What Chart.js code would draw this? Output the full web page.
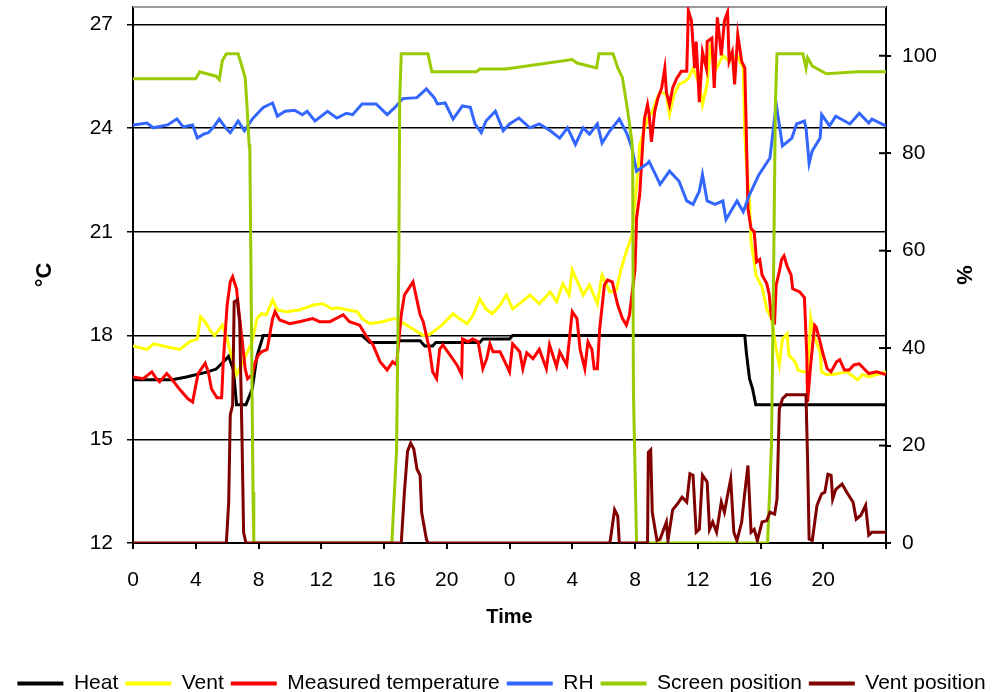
<!DOCTYPE html>
<html>
<head>
<meta charset="utf-8">
<title>Greenhouse climate</title>
<script src="https://cdn.jsdelivr.net/npm/chart.js@4/dist/chart.umd.min.js"></script>
<style>
    html, body { margin: 0; padding: 0; background: #fff; }
    #wrap { width: 1003px; height: 692px; }
</style>
</head>
<body>
<div id="wrap"><canvas id="chart"></canvas></div>
<script>
// [hour since start of day 1, value]; temperatures in °C, the rest in %
const heat = [[0,16.72],[2.5,16.72],[3.4,16.8],[4.7,16.94],[5.3,17.03],[5.9,17.3],[6.1,17.4],[6.4,17.0],[6.6,16.0],[7.2,16.0],[7.6,16.45],[7.9,17.4],[8.3,18.0],[14.6,18.0],[15.1,17.8],[16.8,17.8],[17.0,17.85],[18.3,17.85],[18.6,17.7],[19.1,17.7],[19.3,17.8],[22.1,17.8],[22.3,17.9],[24.0,17.9],[24.2,18.0],[39.0,18.0],[39.1,17.5],[39.3,16.75],[39.5,16.45],[39.7,16.0],[48,16.0]];

const vent = [[0,17.7],[0.9,17.6],[1.3,17.76],[2.2,17.67],[3.0,17.6],[3.6,17.82],[4.1,17.9],[4.3,18.54],[4.6,18.4],[4.9,18.16],[5.2,18.0],[5.7,18.3],[6.0,17.9],[6.2,17.53],[6.4,17.24],[6.6,16.87],[6.8,17.04],[7.3,17.53],[7.6,17.82],[7.9,18.49],[8.2,18.63],[8.5,18.6],[8.9,19.03],[9.2,18.74],[9.8,18.69],[10.6,18.74],[11.5,18.88],[12.1,18.92],[12.7,18.77],[13.0,18.8],[14.3,18.69],[14.6,18.49],[15.1,18.34],[15.9,18.4],[16.6,18.49],[16.8,18.47],[17.8,18.2],[18.5,18.0],[18.9,18.03],[19.4,18.2],[19.7,18.3],[20.4,18.63],[20.8,18.49],[21.3,18.34],[21.7,18.6],[22.1,19.06],[22.5,18.77],[22.9,18.63],[23.4,18.88],[23.8,19.17],[24.2,18.77],[24.8,18.98],[25.3,19.17],[25.9,18.92],[26.6,19.26],[27.0,18.98],[27.4,19.5],[27.8,19.17],[28.0,19.9],[28.7,19.17],[29.1,19.46],[29.6,18.92],[29.9,19.75],[30.4,19.26],[30.8,19.3],[31.1,19.9],[31.3,20.2],[31.5,20.5],[31.8,20.9],[32.0,21.87],[32.2,22.83],[32.3,23.5],[32.5,23.8],[32.8,24.26],[33.1,24.47],[33.4,24.85],[33.6,25.05],[34.0,24.97],[34.2,24.4],[34.5,24.97],[34.8,25.26],[35.2,25.35],[35.4,25.43],[35.7,25.73],[36.1,25.26],[36.3,24.68],[36.6,25.26],[36.8,26.3],[37.2,25.73],[37.6,26.1],[38.0,25.93],[38.5,26.1],[38.9,25.73],[39.0,23.8],[39.1,23.0],[39.3,21.87],[39.4,20.7],[39.6,20.13],[39.7,19.75],[40.1,19.4],[40.4,18.77],[40.7,18.5],[41.0,17.6],[41.2,17.15],[41.4,17.9],[41.7,18.05],[41.8,17.44],[42.2,17.24],[42.4,17.0],[42.7,16.95],[43.0,16.95],[43.2,18.49],[43.4,18.0],[43.8,17.53],[43.9,16.95],[44.2,16.87],[44.6,16.87],[45.5,16.95],[46.2,16.72],[46.5,16.87],[46.9,16.8],[48,16.95]];

const measuredTemp = [[0,16.8],[0.65,16.75],[1.2,16.95],[1.5,16.75],[1.7,16.66],[2.15,16.9],[2.5,16.72],[3.0,16.43],[3.5,16.17],[3.8,16.08],[4.15,16.9],[4.6,17.2],[4.8,16.95],[5.0,16.46],[5.35,16.2],[5.65,16.2],[5.75,17.2],[6.0,18.88],[6.2,19.55],[6.35,19.7],[6.6,19.35],[6.75,18.69],[6.95,17.9],[7.15,17.04],[7.3,16.75],[7.6,16.87],[7.8,17.24],[8.0,17.44],[8.2,17.53],[8.55,17.6],[8.9,18.49],[9.05,18.69],[9.35,18.45],[10.0,18.34],[10.6,18.4],[11.45,18.49],[11.9,18.4],[12.55,18.4],[13.4,18.6],[13.8,18.4],[14.45,18.3],[14.9,17.96],[15.3,17.73],[15.75,17.24],[16.2,17.0],[16.55,17.24],[16.8,17.15],[17.1,18.6],[17.3,19.17],[17.85,19.55],[18.3,18.6],[18.5,18.4],[18.7,18.0],[18.9,17.6],[19.1,16.95],[19.35,16.75],[19.55,17.6],[19.75,17.73],[20.2,17.44],[20.65,17.15],[20.95,16.87],[21.0,17.9],[21.35,17.82],[21.65,17.9],[22.0,17.82],[22.3,17.04],[22.55,17.33],[22.75,17.76],[22.95,17.53],[23.4,17.53],[23.8,17.15],[24.0,16.95],[24.2,17.76],[24.65,17.53],[24.85,17.04],[25.1,17.5],[25.5,17.33],[25.9,17.6],[26.35,17.04],[26.55,17.73],[27.0,17.1],[27.2,17.53],[27.65,17.15],[28.0,18.69],[28.3,18.49],[28.5,17.6],[28.8,17.04],[29.0,17.82],[29.25,17.6],[29.4,17.04],[29.6,17.04],[29.75,18.2],[30.05,19.46],[30.25,19.6],[30.55,19.55],[30.9,18.88],[31.2,18.49],[31.45,18.3],[31.65,18.6],[32.0,19.9],[32.1,21.4],[32.3,22.07],[32.5,23.6],[32.6,24.26],[32.8,24.68],[32.9,24.4],[33.05,23.6],[33.25,24.47],[33.45,24.85],[33.7,25.16],[33.9,25.73],[34.0,25.04],[34.2,24.68],[34.4,25.16],[34.65,25.43],[34.95,25.64],[35.3,25.64],[35.4,27.4],[35.6,27.1],[35.8,25.73],[35.9,26.5],[36.1,24.75],[36.3,26.2],[36.55,25.73],[36.6,26.5],[36.9,26.6],[37.05,25.16],[37.25,27.2],[37.5,26.1],[37.7,27.1],[37.9,27.35],[38.0,25.93],[38.2,26.2],[38.35,25.26],[38.55,26.7],[38.8,25.93],[39.0,25.73],[39.1,23.8],[39.2,21.67],[39.4,21.09],[39.6,21.0],[39.75,20.13],[39.95,20.2],[40.1,19.75],[40.4,19.5],[40.55,19.2],[40.7,18.49],[40.9,18.4],[41.0,19.46],[41.2,19.85],[41.35,20.2],[41.5,20.3],[41.7,20.0],[41.95,19.75],[42.05,19.35],[42.5,19.26],[42.8,19.1],[42.95,17.44],[43.0,16.08],[43.2,17.15],[43.45,18.3],[43.55,18.25],[43.75,17.9],[43.95,17.53],[44.25,17.04],[44.5,16.95],[44.85,17.24],[45.05,17.3],[45.35,17.0],[45.65,17.0],[45.95,17.15],[46.3,17.18],[46.6,17.04],[46.9,16.9],[47.4,16.95],[48,16.87]];

const rh = [[0,85.8],[0.9,86.2],[1.3,85.2],[2.2,85.8],[2.8,87.0],[3.2,85.4],[3.8,85.8],[4.1,83.1],[4.5,83.9],[4.8,84.2],[5.1,85.2],[5.5,87.0],[5.9,85.2],[6.2,84.2],[6.7,86.6],[7.1,84.6],[7.6,87.0],[8.3,89.4],[8.9,90.3],[9.2,87.6],[9.7,88.6],[10.3,88.8],[10.8,87.9],[11.1,88.6],[11.6,86.6],[12.4,88.6],[13.0,87.2],[13.6,88.2],[14.0,87.9],[14.6,90.1],[15.5,90.1],[16.2,87.9],[16.7,89.4],[17.2,91.2],[18.1,91.4],[18.7,93.2],[19.2,91.4],[19.4,90.1],[19.9,90.3],[20.4,87.0],[21.0,89.7],[21.5,89.4],[21.8,86.0],[22.2,84.2],[22.5,86.6],[23.1,88.6],[23.6,84.6],[24.0,86.0],[24.6,87.2],[25.3,85.2],[25.9,86.0],[26.6,84.6],[27.2,83.1],[27.7,85.2],[28.2,81.8],[28.7,85.2],[29.1,83.9],[29.6,86.0],[29.9,82.1],[30.4,84.6],[31.0,87.0],[31.5,83.9],[31.8,81.1],[32.1,76.3],[32.8,77.9],[32.9,78.3],[33.4,75.0],[33.6,73.6],[34.2,76.3],[34.8,74.3],[35.3,70.2],[35.7,69.5],[36.1,72.2],[36.3,75.6],[36.6,70.2],[37.1,69.5],[37.6,70.2],[37.8,66.4],[38.5,70.2],[38.9,68.0],[39.3,71.5],[39.9,75.6],[40.6,79.0],[41.0,90.1],[41.4,81.5],[42.0,83.1],[42.3,86.0],[42.8,86.6],[42.9,85.2],[43.1,77.9],[43.3,80.5],[43.8,83.1],[43.9,87.9],[44.4,85.6],[44.8,87.6],[45.7,86.0],[46.3,88.2],[46.9,86.2],[47.1,87.0],[48,85.6]];

const screenPos = [[0,95.3],[4.0,95.3],[4.25,96.7],[4.7,96.3],[5.3,95.8],[5.5,95.1],[5.7,99],[5.95,100.4],[6.7,100.4],[6.9,98.3],[7.15,95.5],[7.25,90.7],[7.4,81.9],[7.45,80.4],[7.65,10.4],[7.7,0],[16.5,0],[16.8,19],[16.95,60],[17.0,91],[17.1,100.4],[18.8,100.4],[19.05,96.7],[21.9,96.7],[22.1,97.3],[23.8,97.3],[24.2,97.5],[25.1,97.9],[28.0,99.2],[28.3,98.5],[29.55,97.5],[29.7,100.4],[30.6,100.4],[30.9,97.5],[31.2,95.5],[31.5,89.4],[31.8,82.5],[31.85,79.7],[31.9,31],[32.1,0],[40.45,0],[40.7,20],[40.85,60],[40.95,90],[41.05,100.4],[42.7,100.4],[42.9,97.5],[43.0,99.6],[43.3,97.9],[44.2,96.3],[46.2,96.7],[48,96.7]];

const ventPos = [[0,0],[5.95,0],[6.1,8.4],[6.2,26.3],[6.35,28.3],[6.45,49.5],[6.65,49.9],[6.8,45.4],[6.95,21.4],[7.05,2.2],[7.2,0],[17.1,0],[17.3,10.4],[17.5,18.8],[17.7,20.5],[17.9,19.3],[18.1,15.2],[18.3,13.9],[18.4,6.3],[18.7,0.8],[18.8,0],[30.4,0],[30.7,6.8],[30.9,5.5],[31.0,0],[32.8,0],[32.85,18.6],[33.0,19.1],[33.1,6.3],[33.4,0.5],[33.6,0.8],[34.0,4.3],[34.1,0.5],[34.4,6.8],[34.7,8.0],[35.0,9.4],[35.3,8.4],[35.5,14.2],[35.7,13.9],[35.9,2.2],[36.1,2.8],[36.3,13.9],[36.6,12.5],[36.75,2.8],[36.95,4.3],[37.2,2.2],[37.5,8.4],[37.7,6.3],[37.9,9.8],[38.1,13.1],[38.3,2.2],[38.5,0.5],[38.8,4.3],[39.0,10.4],[39.2,15.9],[39.4,2.2],[39.6,2.8],[39.8,0.5],[40.1,4.3],[40.4,4.6],[40.6,6.3],[40.9,5.9],[41.05,9.0],[41.2,27.5],[41.4,29.6],[41.65,30.4],[42.9,30.4],[43.0,17.3],[43.1,0.8],[43.3,0.5],[43.6,7.7],[43.9,10.1],[44.1,10.4],[44.3,14.1],[44.5,13.9],[44.6,9.0],[44.8,11.0],[45.2,12.1],[45.5,10.4],[45.9,8.4],[46.1,4.9],[46.4,5.7],[46.7,7.7],[46.9,1.6],[47.1,2.2],[48,2.2]];

const FONT = '"Liberation Sans", Arial, sans-serif';

function toPoints(pairs) {
    return pairs.map(([t, v]) => ({ x: t, y: v }));
}

function series(label, pairs, color, axis, order) {
    return {
        label: label,
        data: toPoints(pairs),
        borderColor: color,
        backgroundColor: color,
        borderWidth: 3,
        pointRadius: 0,
        tension: 0,
        fill: false,
        yAxisID: axis,
        order: order
    };
}

// fixed box sizes so the plot area lands where the original one is
function fixWidth(w) {
    return scale => {
        scale.width = w;
        scale.paddingTop = 0;
        scale.paddingBottom = 0;
    };
}

// grey top edge of the plot and the inner half of the right-hand ticks
const frameLines = {
    id: 'frameLines',
    beforeDatasetsDraw(chart) {
        const { ctx, chartArea } = chart;
        ctx.save();
        ctx.strokeStyle = '#999';
        ctx.lineWidth = 2;
        ctx.beginPath();
        ctx.moveTo(chartArea.left, chartArea.top);
        ctx.lineTo(chartArea.right, chartArea.top);
        ctx.stroke();
        ctx.restore();
    },
    afterDraw(chart) {
        const { ctx, chartArea } = chart;
        const right = chart.scales.y1;
        ctx.save();
        ctx.strokeStyle = '#000';
        ctx.lineWidth = 2;
        right.ticks.forEach(t => {
            const y = right.getPixelForValue(t.value);
            ctx.beginPath();
            ctx.moveTo(chartArea.right - 7, y);
            ctx.lineTo(chartArea.right, y);
            ctx.stroke();
        });
        ctx.restore();
    }
};

Chart.defaults.font.family = FONT;
Chart.defaults.color = '#000';

const baseLabels = Chart.defaults.plugins.legend.labels.generateLabels;

new Chart(document.getElementById('chart'), {
    type: 'line',
    data: {
        datasets: [
            series('Heat', heat, '#000000', 'y', 6),
            series('Vent', vent, '#FFFF00', 'y', 5),
            series('Measured temperature', measuredTemp, '#FF0000', 'y', 4),
            series('RH', rh, '#3366FF', 'y1', 3),
            series('Screen position', screenPos, '#99CC00', 'y1', 2),
            series('Vent position', ventPos, '#800000', 'y1', 1)
        ]
    },
    options: {
        responsive: true,
        maintainAspectRatio: false,
        animation: false,
        layout: { padding: { top: 7, left: 0, right: 0, bottom: -12 } },
        plugins: {
            tooltip: { enabled: false },
            legend: {
                position: 'bottom',
                labels: {
                    boxWidth: 46,
                    boxHeight: 4,
                    padding: 7,
                    font: { size: 21 },
                    sort: (a, b) => a.datasetIndex - b.datasetIndex,
                    generateLabels: chart => baseLabels(chart).map(item => {
                        item.fillStyle = item.strokeStyle;
                        item.lineWidth = 0;
                        return item;
                    })
                }
            }
        },
        scales: {
            x: {
                type: 'linear',
                min: 0,
                max: 48,
                afterFit: scale => { scale.height = 123; },
                ticks: {
                    stepSize: 4,
                    autoSkip: false,
                    maxRotation: 0,
                    padding: 19,
                    font: { size: 21 },
                    callback: value => value >= 48 ? '' : String(value % 24)
                },
                grid: { drawOnChartArea: false, color: '#000', lineWidth: 2, tickLength: 6 },
                border: { color: '#000', width: 2 },
                title: {
                    display: true,
                    text: 'Time',
                    font: { size: 20, weight: 'bold' },
                    padding: { top: 0, bottom: 37 }
                }
            },
            y: {
                position: 'left',
                min: 12,
                max: 27.5,
                afterFit: fixWidth(133),
                afterBuildTicks: scale => { scale.ticks = scale.ticks.filter(t => t.value % 3 === 0); },
                ticks: { stepSize: 3, includeBounds: false, padding: 14, font: { size: 21 } },
                grid: { color: '#000', lineWidth: 1.5, tickLength: 6 },
                border: { color: '#000', width: 2 },
                title: {
                    display: true,
                    text: '°C',
                    font: { size: 22, weight: 'bold' },
                    padding: { top: 32, bottom: 0 }
                }
            },
            y1: {
                position: 'right',
                min: 0,
                max: 110,
                afterFit: fixWidth(117),
                afterBuildTicks: scale => { scale.ticks = scale.ticks.filter(t => t.value % 20 === 0); },
                ticks: { stepSize: 20, includeBounds: false, padding: 11, font: { size: 21 } },
                grid: { drawOnChartArea: false, color: '#000', lineWidth: 2, tickLength: 5 },
                border: { color: '#000', width: 2 },
                title: {
                    display: true,
                    text: '%',
                    font: { size: 22, weight: 'bold' },
                    padding: { top: 27, bottom: 0 }
                }
            }
        }
    },
    plugins: [frameLines]
});
</script>
</body>
</html>
